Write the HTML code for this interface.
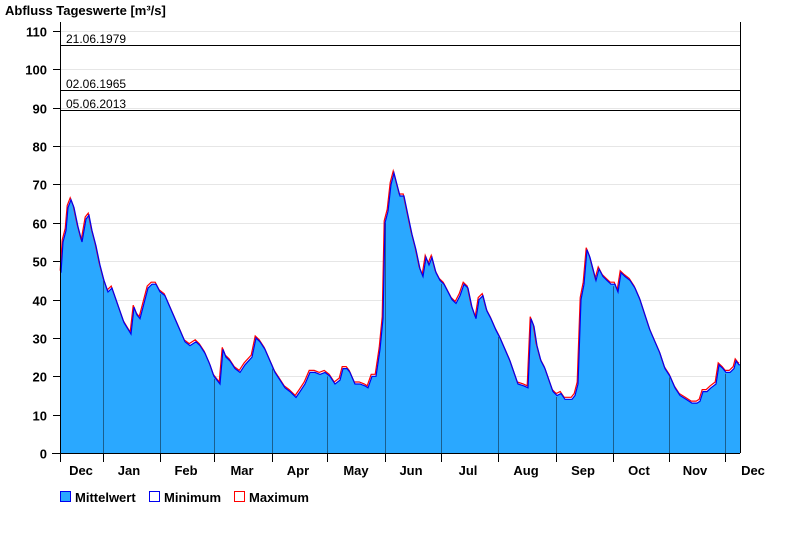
<!DOCTYPE html>
<html><head><meta charset="utf-8"><style>
body{margin:0;background:#fff;width:800px;height:550px;overflow:hidden;font-family:"Liberation Sans",Arial,sans-serif}
svg text{font-family:"Liberation Sans",Arial,sans-serif}
</style></head><body>
<svg id="s" width="800" height="550" xmlns="http://www.w3.org/2000/svg">
<text x="5" y="15" font-size="13" font-weight="bold">Abfluss Tageswerte [m³/s]</text>
<g id="grid"></g>
<path id="fill" fill="#2aa8ff" stroke="none"/>
<g id="mlines"></g>
<polyline id="red" fill="none" stroke="#ff0000" stroke-width="1.2"/>
<polyline id="blue" fill="none" stroke="#0000ee" stroke-width="1.2"/>
<g id="ref">
<line x1="61" x2="740" y1="45.5" y2="45.5" stroke="#000"/>
<line x1="61" x2="740" y1="90.5" y2="90.5" stroke="#000"/>
<line x1="61" x2="740" y1="110.5" y2="110.5" stroke="#000"/>
<text x="66" y="43" font-size="12">21.06.1979</text>
<text x="66" y="88" font-size="12">02.06.1965</text>
<text x="66" y="108" font-size="12">05.06.2013</text>
</g>
<line x1="740.5" x2="740.5" y1="22" y2="453" stroke="#000"/>
<line x1="60.5" x2="60.5" y1="22" y2="462" stroke="#000"/>
<line x1="52" x2="740" y1="453.5" y2="453.5" stroke="#000"/>
<g id="ax"></g>
<rect x="60.5" y="491.5" width="10" height="10" fill="#2aa8ff" stroke="#0000ee"/>
<text x="75" y="502" font-size="13" font-weight="bold">Mittelwert</text>
<rect x="149.5" y="491.5" width="10" height="10" fill="#fff" stroke="#0000ee"/>
<text x="164" y="502" font-size="13" font-weight="bold">Minimum</text>
<rect x="234.5" y="491.5" width="10" height="10" fill="#fff" stroke="#ff0000"/>
<text x="249" y="502" font-size="13" font-weight="bold">Maximum</text>
</svg>
<script>
var NS="http://www.w3.org/2000/svg";
function el(p,t,a,txt){var e=document.createElementNS(NS,t);for(var k in a)e.setAttribute(k,a[k]);if(txt)e.textContent=txt;document.getElementById(p).appendChild(e);}
function Y(v){return 453-v*3.836;}
for(var v=0;v<=110;v+=10){var y=Math.round(Y(v))+0.5;
 if(v>0)el("grid","line",{x1:61,x2:740,y1:y,y2:y,stroke:"#e6e6e6"});
 el("ax","line",{x1:53,x2:60,y1:y,y2:y,stroke:"#000"});
 el("ax","text",{x:47,y:y+5,"font-size":13,"font-weight":"bold","text-anchor":"end"},""+v);}
var ml=[103.5,160.5,214.5,272.5,327.5,385.5,441.5,498.5,556.5,613.5,669.5,725.5];
ml.forEach(function(x){el("ax","line",{x1:x,x2:x,y1:453,y2:462,stroke:"#000"});});
var labs=[["Dec",81],["Jan",129],["Feb",186],["Mar",242],["Apr",298],["May",356],["Jun",411],["Jul",468],["Aug",526],["Sep",583],["Oct",639],["Nov",695],["Dec",753]];
labs.forEach(function(l){el("ax","text",{x:l[1],y:475,"font-size":13,"font-weight":"bold","text-anchor":"middle"},l[0]);});
var d=[61,47,63,55,66,58,68,64,71,66,74,64,78,59,82,55,86,61,89,62,92,58,96,54,100,49,104,45,108,42,112,43,116,40,120,37,124,34,131,31,134,38,137,36,140,35,144,39,148,43,152,44,156,44,160,42,165,41,170,38,175,35,180,32,185,29,190,28,196,29,200,28,205,26,210,23,214,20,220,18,223,27,226,25,230,24,235,22,240,21,245,23,252,25,256,30,260,29,265,27,270,24,275,21,280,19,285,17,290,16,296,14.5,300,16,305,18,310,21,315,21,320,20.5,325,21,330,20,335,18,340,19,343,22,347,22,350,21,355,18,360,18,365,17.5,368,17,372,20,376,20,380,27,383,35,385,60,388,63,391,70,394,73,397,70,400,67,404,67,408,62,412,57,416,53,420,48,423,46,426,51,429,49,432,51,436,47,440,45,444,44,448,42,452,40,456,39,460,41,464,44,468,43,472,38,476,35,479,40,483,41,487,37,491,35,496,32,500,30,505,27,510,24,514,21,518,18,524,17.5,528,17,531,35,534,33,537,28,541,24,545,22,549,19,553,16,557,15,561,15.5,565,14,568,14,572,14,575,15,578,18,581,40,584,44,587,53,590,51,593,48,596,45,599,48,603,46,607,45,611,44,615,44,618,42,621,47,625,46,630,45,635,43,640,40,645,36,650,32,655,29,660,26,665,22,670,20,675,17,680,15,686,14,692,13,697,13,700,13.5,703,16,707,16,711,17,716,18,719,23,723,22,726,21,730,21,734,22,736,24,739,23,740,23];
var pb=[],pr=[],f="M61,453";
for(var i=0;i<d.length;i+=2){var x=d[i],y=Y(d[i+1]);pb.push(x+","+y.toFixed(1));pr.push((x-0.8)+","+(y-2).toFixed(1));f+=" L"+x+","+y.toFixed(1);}
f+=" L740,453 Z";
document.getElementById("fill").setAttribute("d",f);
document.getElementById("blue").setAttribute("points",pb.join(" "));
document.getElementById("red").setAttribute("points",pr.join(" "));
ml.forEach(function(x){var v=0;for(var i=0;i<d.length-2;i+=2){if(d[i]<=x&&d[i+2]>=x){v=d[i+1]+(d[i+3]-d[i+1])*(x-d[i])/(d[i+2]-d[i]);}}
 el("mlines","line",{x1:x,x2:x,y1:Y(v)+2,y2:453,stroke:"#1a5f8f","stroke-width":1});});
</script>
</body></html>
